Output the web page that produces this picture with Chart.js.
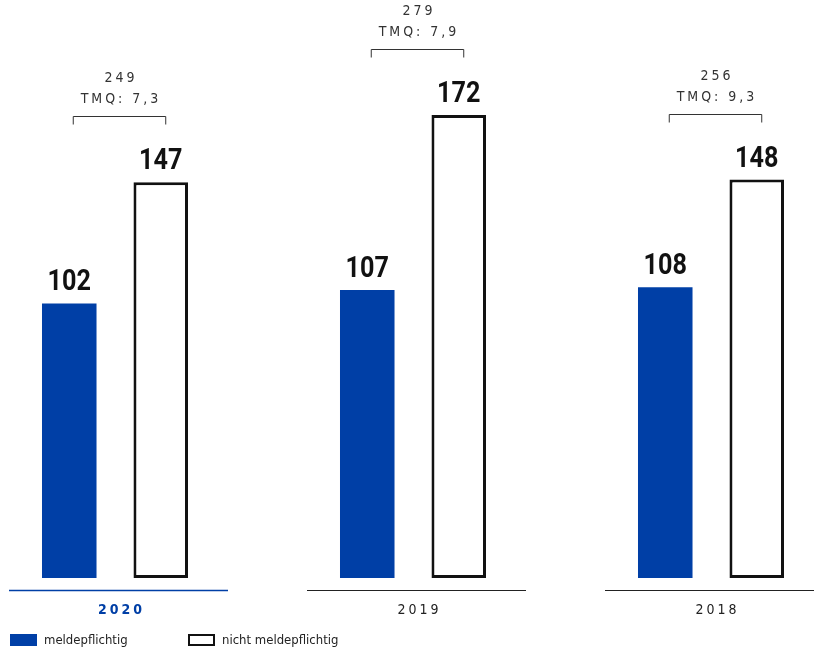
<!DOCTYPE html>
<html>
<head>
<meta charset="utf-8">
<script src="https://cdn.jsdelivr.net/npm/chart.js@4"></script>
<style>
  html, body { margin: 0; padding: 0; background: #fff; }
  #wrap { position: relative; width: 814px; height: 652px; }
  .legende { position: absolute; left: 10px; top: 632px; display: flex; align-items: center;
             font: 13px 'Liberation Sans Narrow', 'DejaVu Sans Condensed', sans-serif; color: #222; }
  .legende span.box { display: inline-block; width: 27px; height: 12px; box-sizing: border-box; margin-right: 7px; }
  .legende .item { display: flex; align-items: center; }
</style>
</head>
<body>
<div id="wrap">
  <canvas id="chart"></canvas>
  <div class="legende">
    <div class="item" style="width:178px"><span class="box" style="background:#003fa6"></span>meldepflichtig</div>
    <div class="item"><span class="box" style="border:2px solid #111;background:#fff"></span>nicht meldepflichtig</div>
  </div>
</div>
<script>
/* ---------- Daten ---------- */
const jahre = ['2020', '2019', '2018'];
const meldepflichtig = [102, 107, 108];
const nichtMeldepflichtig = [147, 172, 148];
const gesamt = [249, 279, 256];
const tmq = ['7,3', '7,9', '9,3'];

const BLAU = '#003fa6';
const SCHRIFT = "'Liberation Sans Narrow', 'DejaVu Sans Condensed', sans-serif";

/* ---------- Beschriftungen: Werte, Klammern, Jahre ---------- */
const beschriftung = {
  id: 'beschriftung',
  afterDatasetsDraw(chart) {
    const ctx = chart.ctx;
    const x = chart.scales.x;
    const blau = chart.getDatasetMeta(0).data;
    const weiss = chart.getDatasetMeta(1).data;
    ctx.save();

    // Werte über den Balken (schmal gestaucht wie die Vorlage)
    ctx.fillStyle = '#111';
    ctx.font = 'bold 30px Roboto, sans-serif';
    ctx.textAlign = 'center';
    ctx.textBaseline = 'alphabetic';
    [blau, weiss].forEach((bars, d) => {
      const werte = d === 0 ? meldepflichtig : nichtMeldepflichtig;
      bars.forEach((b, i) => {
        ctx.save();
        ctx.translate(b.x, b.y - 13);
        ctx.scale(0.84, 1);
        ctx.fillText(werte[i], 0, 0);
        ctx.restore();
      });
    });

    jahre.forEach((jahr, i) => {
      const l = blau[i].x + 4, r = weiss[i].x + 5;
      const y = Math.round(weiss[i].y - 66) + 0.5;
      const mitte = (l + r) / 2;

      // Klammer
      ctx.strokeStyle = '#333';
      ctx.lineWidth = 1;
      ctx.beginPath();
      ctx.moveTo(l, y + 8); ctx.lineTo(l, y); ctx.lineTo(r, y); ctx.lineTo(r, y + 8);
      ctx.stroke();

      ctx.fillStyle = '#333';
      ctx.font = '14px ' + SCHRIFT;
      ctx.letterSpacing = '3px';
      ctx.fillText(String(gesamt[i]), mitte + 1.5, y - 35);
      ctx.fillText('TMQ: ' + tmq[i], mitte + 1.5, y - 14);

      // Jahreslinie und Jahr
      const c = x.getPixelForValue(i);
      const aktuell = i === 0;
      ctx.strokeStyle = aktuell ? BLAU : '#222';
      ctx.lineWidth = aktuell ? 1.5 : 1;
      ctx.beginPath();
      ctx.moveTo(c - 106, 590.5); ctx.lineTo(c + 113, 590.5);
      ctx.stroke();

      ctx.fillStyle = aktuell ? BLAU : '#222';
      ctx.font = (aktuell ? 'bold ' : '') + '14px ' + SCHRIFT;
      ctx.textBaseline = 'middle';
      ctx.fillText(jahr, c + 6.5, 610);
      ctx.textBaseline = 'alphabetic';
      ctx.letterSpacing = '0px';
    });
    ctx.restore();
  }
};

/* ---------- Diagramm ---------- */
new Chart(document.getElementById('chart'), {
  type: 'bar',
  data: {
    labels: jahre,
    datasets: [
      { label: 'meldepflichtig', data: meldepflichtig, backgroundColor: BLAU, borderWidth: 0, clip: false },
      { label: 'nicht meldepflichtig', data: nichtMeldepflichtig, backgroundColor: '#fff',
        borderColor: '#111', borderWidth: 3, borderSkipped: false, clip: false }
    ]
  },
  options: {
    responsive: true,
    maintainAspectRatio: false,
    animation: false,
    categoryPercentage: 0.614,
    barPercentage: 0.596,
    layout: { padding: { left: 115, right: 103, top: 0, bottom: 74 } },
    plugins: { legend: { display: false }, tooltip: { enabled: false } },
    scales: {
      x: { display: false, offset: false, grid: { display: false } },
      y: { display: false, min: 0, max: 214.7 }
    }
  },
  plugins: [beschriftung]
});
</script>
</body>
</html>
